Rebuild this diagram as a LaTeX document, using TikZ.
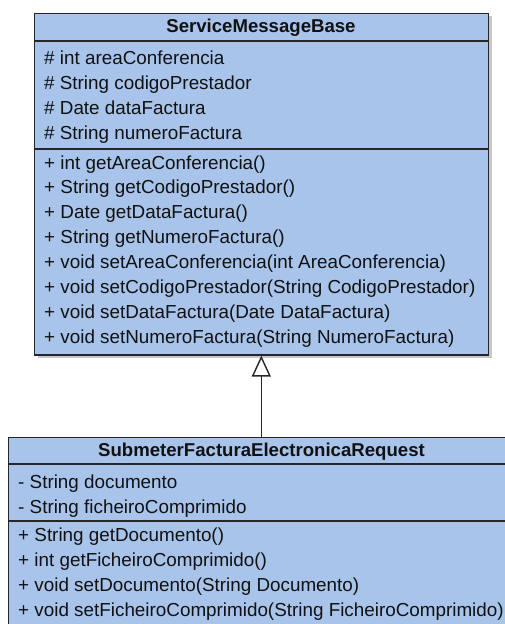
\documentclass[tikz,border=0pt]{standalone}
\usepackage{fontspec}
\setmainfont{Liberation Sans}
\usetikzlibrary{arrows.meta,shadows}
\definecolor{classfill}{HTML}{A9C4EB}
\definecolor{txt}{HTML}{111111}
\begin{document}
\begin{tikzpicture}[x=1pt,y=-1pt,
  classbox/.style={draw=black!85, line width=1.4pt, fill=classfill, inner sep=0pt,
    anchor=north west, drop shadow={shadow xshift=3pt, shadow yshift=-3pt, fill=black!40, opacity=0.55}},
  sepline/.style={draw=black!85, line width=1.4pt},
  member/.style={anchor=base west, inner sep=0pt, text=txt, font=\fontsize{18.85}{22}\selectfont},
  title/.style={anchor=base, inner sep=0pt, text=txt, font=\fontsize{18.6}{22}\selectfont\bfseries},
  inherit/.style={draw=black!85, line width=1.4pt, -{Triangle[open, length=21pt, width=19pt, fill=white]}}]
\useasboundingbox (0,0) rectangle (505,624);
\clip (0,0) rectangle (505,624);
% base class
\node[classbox, minimum width=454pt, minimum height=341.5pt] (base) at (34,12.7) {};
\draw[sepline] (base.west |- 0,41) -- (base.east |- 0,41);
\draw[sepline] (base.west |- 0,149) -- (base.east |- 0,149);
\node[title] (baseT) at (261,32.5) {ServiceMessageBase};
\foreach \t [count=\i] in {{\# int areaConferencia},{\# String codigoPrestador},{\# Date dataFactura},{\# String numeroFactura}}
  \node[member] (ba\i) at (44,{64+25*(\i-1)}) {\t};
\foreach \t [count=\i] in {{+ int getAreaConferencia()},{+ String getCodigoPrestador()},{+ Date getDataFactura()},{+ String getNumeroFactura()},{+ void setAreaConferencia(int AreaConferencia)},{+ void setCodigoPrestador(String CodigoPrestador)},{+ void setDataFactura(Date DataFactura)},{+ void setNumeroFactura(String NumeroFactura)}}
  \node[member] (bm\i) at (44,{169+24.93*(\i-1)}) {\t};
% sub class
\node[classbox, minimum width=508pt, minimum height=220pt] (sub) at (7.5,436.5) {};
\draw[sepline] (sub.west |- 0,464) -- (sub.east |- 0,464);
\draw[sepline] (sub.west |- 0,521) -- (sub.east |- 0,521);
\node[title] (subT) at (261.5,456.5) {SubmeterFacturaElectronicaRequest};
\foreach \t [count=\i] in {{- String documento},{- String ficheiroComprimido}}
  \node[member] (sa\i) at (18,{488+25*(\i-1)}) {\t};
\foreach \t [count=\i] in {{+ String getDocumento()},{+ int getFicheiroComprimido()},{+ void setDocumento(String Documento)},{+ void setFicheiroComprimido(String FicheiroComprimido)}}
  \node[member] (sm\i) at (18,{541.5+25*(\i-1)}) {\t};
% inheritance
\draw[inherit] (261.3,0 |- sub.north) coordinate (inhS) -- (inhS |- base.south);
\end{tikzpicture}
\end{document}
